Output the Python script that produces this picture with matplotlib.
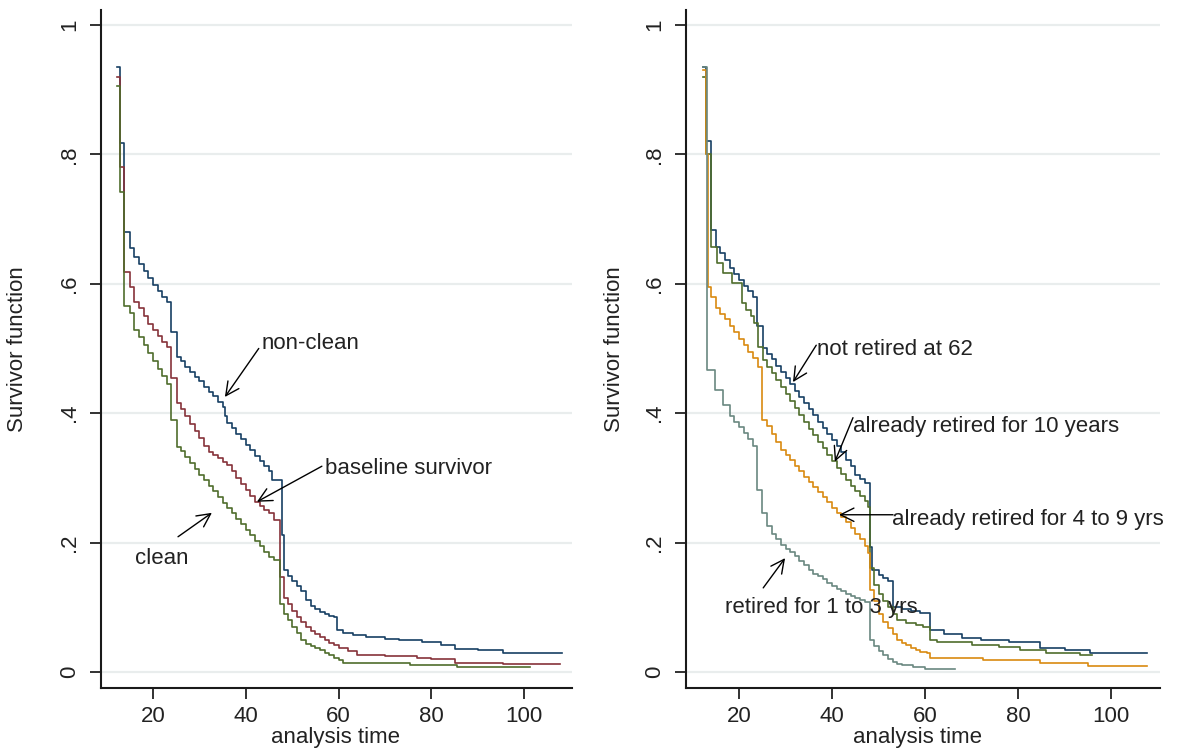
import numpy as np
import matplotlib
matplotlib.use("Agg")
import matplotlib.pyplot as plt

# ============================================
# Data
# ============================================
# left panel
t_nonclean = [12.2, 12.9, 13.75, 15, 16, 17, 18, 19, 20, 21, 22, 23, 23.9, 25.2,
              26, 27, 28, 29, 30, 31, 32, 33, 34, 35, 35.5, 36, 37, 38, 39, 40,
              41, 42, 43, 44, 45, 45.7, 47.8, 48.2, 49, 50, 51, 52, 53, 54, 55,
              56, 57, 58, 59, 59.7, 61, 63, 66, 70, 73, 78, 82, 85, 90, 95.5, 108.2]
s_nonclean = [0.935, 0.818, 0.68, 0.655, 0.642, 0.63, 0.619, 0.609, 0.598, 0.589,
              0.58, 0.572, 0.525, 0.487, 0.48, 0.472, 0.464, 0.456, 0.449, 0.441,
              0.433, 0.426, 0.418, 0.41, 0.395, 0.385, 0.377, 0.368, 0.36, 0.351,
              0.343, 0.334, 0.326, 0.318, 0.31, 0.297, 0.212, 0.158, 0.148, 0.14,
              0.133, 0.125, 0.112, 0.102, 0.097, 0.093, 0.09, 0.087, 0.085, 0.065,
              0.06, 0.057, 0.054, 0.051, 0.049, 0.046, 0.042, 0.036, 0.034, 0.03, 0.03]

t_base = [12.2, 12.9, 13.75, 15, 16, 17, 18, 19, 20, 21, 22, 23, 23.9, 25.2,
          26, 27, 28, 29, 30, 31, 32, 33, 34, 35, 36, 37, 38, 39, 40, 41, 42,
          43, 44, 45, 46, 47.4, 48.2, 49, 50, 51, 52, 53, 54, 55, 56, 57, 58,
          59, 60, 62, 64, 70, 77, 80, 85.1, 95.5, 107.8]
s_base = [0.92, 0.78, 0.618, 0.595, 0.572, 0.562, 0.55, 0.538, 0.528, 0.519,
          0.51, 0.502, 0.454, 0.416, 0.407, 0.396, 0.384, 0.373, 0.361, 0.35,
          0.34, 0.335, 0.33, 0.325, 0.32, 0.31, 0.30, 0.291, 0.282, 0.272, 0.263,
          0.257, 0.251, 0.245, 0.235, 0.147, 0.115, 0.105, 0.095, 0.085, 0.077,
          0.07, 0.064, 0.059, 0.054, 0.05, 0.045, 0.041, 0.037, 0.032, 0.026,
          0.024, 0.022, 0.02, 0.014, 0.012, 0.012]

t_clean = [12.2, 12.9, 13.75, 15, 16, 17, 18, 19, 20, 21, 22, 23, 23.9, 25.2,
           26, 27, 28, 29, 30, 31, 32, 33, 34, 35, 36, 37, 38, 39, 40, 41, 42,
           43, 44, 45, 46, 47.4, 48.2, 49, 50, 51, 52, 53, 54, 55, 56, 57, 58,
           59, 60, 61, 75.4, 85.6, 101.3]
s_clean = [0.905, 0.742, 0.565, 0.555, 0.529, 0.517, 0.505, 0.493, 0.481, 0.469,
           0.457, 0.445, 0.39, 0.348, 0.341, 0.332, 0.323, 0.314, 0.305, 0.296,
           0.288, 0.279, 0.27, 0.261, 0.253, 0.245, 0.236, 0.228, 0.22, 0.211,
           0.203, 0.195, 0.186, 0.178, 0.173, 0.105, 0.09, 0.08, 0.07, 0.06,
           0.049, 0.044, 0.04, 0.037, 0.034, 0.03, 0.026, 0.022, 0.019, 0.014,
           0.011, 0.008, 0.008]

# right panel
t_notret = [12.2, 12.9, 14, 15, 16, 17, 18, 19, 20, 21, 22, 23, 23.9, 25.2, 26,
            27, 28, 29, 30, 31, 32, 33, 34, 35, 36, 37, 38, 39, 40, 41, 42, 43,
            44, 45, 46, 47, 48.2, 48.6, 50, 51, 52, 53.1, 55, 57, 59, 61.1, 64,
            68, 72, 78, 84.7, 90, 95.5, 107.7]
s_notret = [0.935, 0.82, 0.683, 0.657, 0.648, 0.636, 0.625, 0.615, 0.606, 0.597,
            0.588, 0.579, 0.535, 0.50, 0.492, 0.483, 0.473, 0.464, 0.454, 0.445,
            0.435, 0.425, 0.416, 0.406, 0.397, 0.387, 0.377, 0.368, 0.358, 0.35,
            0.34, 0.328, 0.318, 0.305, 0.298, 0.292, 0.193, 0.158, 0.15, 0.145,
            0.14, 0.1, 0.097, 0.094, 0.091, 0.065, 0.058, 0.053, 0.049, 0.046,
            0.037, 0.034, 0.03, 0.03]

t_ret10 = [12.2, 12.9, 14, 15.3, 16.6, 18.5, 20.6, 21.5, 22.5, 23.3, 24.1, 25.2,
           26, 27, 28, 29, 30, 31, 32, 33, 34, 35, 36, 37, 38, 39, 40, 41, 42,
           43, 44, 45, 46, 47, 47.7, 48.2, 49, 50, 51, 52, 53, 54, 56, 58, 59.6,
           61, 62.6, 70, 76, 80.4, 86, 93.3, 95.9]
s_ret10 = [0.92, 0.80, 0.657, 0.632, 0.617, 0.601, 0.57, 0.56, 0.55, 0.539, 0.502,
           0.482, 0.472, 0.462, 0.451, 0.441, 0.43, 0.419, 0.408, 0.397, 0.387,
           0.376, 0.366, 0.356, 0.346, 0.336, 0.326, 0.316, 0.306, 0.297, 0.288,
           0.279, 0.272, 0.265, 0.255, 0.16, 0.135, 0.12, 0.11, 0.1, 0.09, 0.08,
           0.075, 0.072, 0.07, 0.05, 0.046, 0.042, 0.038, 0.034, 0.03, 0.026, 0.026]

t_ret49 = [12.2, 12.9, 13.3, 14, 15, 16, 17, 18, 19, 20, 21, 22, 23, 24, 24.9,
           26, 27, 28, 29, 30, 31, 32, 33, 34, 35, 36, 37, 38, 39, 40, 41, 42,
           43, 44, 45, 46, 47, 47.7, 48.2, 49, 50, 51, 52, 53, 54, 55, 56, 57,
           58, 59, 60.4, 61, 72.5, 84.7, 95, 107.7]
s_ret49 = [0.93, 0.80, 0.595, 0.58, 0.563, 0.553, 0.545, 0.535, 0.525, 0.515,
           0.505, 0.495, 0.485, 0.472, 0.39, 0.38, 0.368, 0.355, 0.343, 0.335,
           0.327, 0.318, 0.31, 0.302, 0.294, 0.286, 0.278, 0.27, 0.262, 0.254,
           0.246, 0.24, 0.232, 0.222, 0.213, 0.205, 0.195, 0.184, 0.127, 0.11,
           0.09, 0.078, 0.068, 0.058, 0.05, 0.045, 0.041, 0.037, 0.034, 0.031,
           0.029, 0.022, 0.018, 0.014, 0.01, 0.01]

t_ret13 = [12.2, 13.1, 14.8, 16.6, 18, 19, 20, 21, 22, 23, 23.9, 24.9, 26, 27,
           28, 29, 30, 31, 32, 33, 34, 35, 36, 37, 38, 39, 40, 41, 42, 43, 44,
           45, 46, 47, 48.2, 49, 50, 51, 52, 53, 54, 55, 57.4, 60, 66.5]
s_ret13 = [0.935, 0.467, 0.436, 0.413, 0.395, 0.387, 0.379, 0.37, 0.36, 0.35,
           0.281, 0.246, 0.225, 0.213, 0.205, 0.197, 0.19, 0.185, 0.18, 0.172,
           0.165, 0.158, 0.152, 0.148, 0.143, 0.138, 0.133, 0.129, 0.125, 0.121,
           0.118, 0.114, 0.111, 0.108, 0.049, 0.04, 0.032, 0.026, 0.02, 0.016,
           0.013, 0.011, 0.008, 0.004, 0.004]

y_ticks = [0, 0.2, 0.4, 0.6, 0.8, 1]
y_ticklabels = ["0", ".2", ".4", ".6", ".8", "1"]
x_ticks = [20, 40, 60, 80, 100]

# ============================================
# Style
# ============================================
plt.rcParams["font.family"] = ["Liberation Sans", "DejaVu Sans"]
FS = 16
TXT = "#222222"

navy = "#173f63"
maroon = "#86323a"
green = "#4f6d2c"
orange = "#d98a10"
teal = "#6a8880"

fig = plt.figure(figsize=(11.84, 7.51), dpi=100)
fig.patch.set_facecolor("white")

ax1 = fig.add_axes([0.0853, 0.0839, 0.3978, 0.9028])
ax2 = fig.add_axes([0.5794, 0.0839, 0.4003, 0.9028])


def setup(ax, xlim, ylab_x, xlab_x):
    ax.set_xlim(*xlim)
    ax.set_ylim(-0.0247, 1.023)
    for y in y_ticks:
        ax.axhline(y, color="#e9eded", lw=1.6, zorder=0)
    ax.set_yticks(y_ticks)
    ax.set_yticklabels(y_ticklabels, rotation=90, va="center")
    ax.set_xticks(x_ticks)
    ax.tick_params(axis="both", labelsize=FS, colors=TXT, length=8, width=1.3)
    ax.tick_params(axis="x", pad=5)
    ax.tick_params(axis="y", pad=7)
    for s in ["top", "right"]:
        ax.spines[s].set_visible(False)
    for s in ["left", "bottom"]:
        ax.spines[s].set_linewidth(1.5)
        ax.spines[s].set_color("#1a1a1a")
    ax.set_ylabel("Survivor function", fontsize=FS, color=TXT)
    ax.yaxis.set_label_coords(ylab_x, 0.5)
    ax.set_xlabel("analysis time", fontsize=FS, color=TXT)
    ax.xaxis.set_label_coords(xlab_x, -0.058)


def arrow(ax, start, tip):
    ax.annotate("", xy=tip, xytext=start,
                arrowprops=dict(arrowstyle="->", color="black", lw=1.0,
                                shrinkA=0, shrinkB=0, mutation_scale=24))


# ============================================
# Left panel
# ============================================
setup(ax1, (8.8, 110.3), -0.155, 0.497)
ax1.step(t_nonclean, s_nonclean, where="post", color=navy, lw=1.2)
ax1.step(t_base, s_base, where="post", color=maroon, lw=1.2)
ax1.step(t_clean, s_clean, where="post", color=green, lw=1.2)

ax1.text(43.5, 0.508, "non-clean", fontsize=FS, color=TXT, va="center")
arrow(ax1, (42.8, 0.50), (35.5, 0.425))
ax1.text(57.1, 0.315, "baseline survivor", fontsize=FS, color=TXT, va="center")
arrow(ax1, (56.4, 0.318), (42.4, 0.263))
ax1.text(16.1, 0.176, "clean", fontsize=FS, color=TXT, va="center")
arrow(ax1, (25.4, 0.209), (32.7, 0.246))

# ============================================
# Right panel
# ============================================
setup(ax2, (8.6, 110.5), -0.129, 0.489)
ax2.step(t_notret, s_notret, where="post", color=navy, lw=1.2)
ax2.step(t_ret10, s_ret10, where="post", color=green, lw=1.2)
ax2.step(t_ret49, s_ret49, where="post", color=orange, lw=1.2)
ax2.step(t_ret13, s_ret13, where="post", color=teal, lw=1.2)

ax2.text(36.8, 0.498, "not retired at 62", fontsize=FS, color=TXT, va="center")
arrow(ax2, (36.6, 0.505), (31.6, 0.448))
ax2.text(44.6, 0.379, "already retired for 10 years", fontsize=FS, color=TXT, va="center")
arrow(ax2, (44.5, 0.393), (40.6, 0.325))
ax2.text(52.9, 0.235, "already retired for 4 to 9 yrs", fontsize=FS, color=TXT, va="center")
arrow(ax2, (53.1, 0.243), (41.5, 0.243))
ax2.text(17.0, 0.10, "retired for 1 to 3 yrs", fontsize=FS, color=TXT, va="center")
arrow(ax2, (25.2, 0.13), (29.9, 0.176))

fig.savefig("out.png", dpi=100, facecolor="white")
